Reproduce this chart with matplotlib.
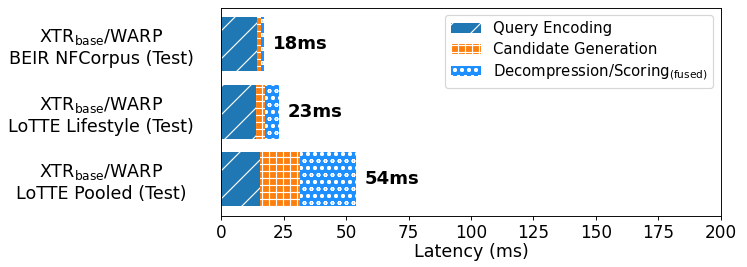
import numpy as np
import matplotlib
matplotlib.use("Agg")
import matplotlib.pyplot as plt

datasets = ["BEIR NFCorpus (Test)", "LoTTE Lifestyle (Test)", "LoTTE Pooled (Test)"]
query_encoding = [14.5, 13.9, 15.7]
candidate_generation = [1.5, 3.6, 15.9]
scoring = [1.1, 5.6, 22.4]
totals_label = [18, 23, 54]

DPI = 84
plt.rcParams['hatch.color'] = 'white'
plt.rcParams['hatch.linewidth'] = 1.0

fig, ax = plt.subplots(figsize=(747 / DPI, 267 / DPI), dpi=DPI)

y = np.arange(len(datasets))
qe = np.array(query_encoding)
cg = np.array(candidate_generation)
sc = np.array(scoring)

ax.barh(y, qe, height=0.8, color='#1f77b4', hatch='/', edgecolor='white', linewidth=0,
        label='Query Encoding')
ax.barh(y, cg, left=qe, height=0.8, color='#ff7f0e', hatch='++', edgecolor='white', linewidth=0,
        label='Candidate Generation')
ax.barh(y, sc, left=qe + cg, height=0.8, color='#1e8fff', hatch='oo', edgecolor='white', linewidth=0,
        label=r'Decompression/Scoring$_{\mathrm{(fused)}}$')

for i, t in enumerate(totals_label):
    ax.text(qe[i] + cg[i] + sc[i] + 3.5, y[i], f'{t}ms', va='center', ha='left',
            fontsize=15.5, fontweight='bold')

ax.set_yticks(y)
ax.set_yticklabels([r'XTR$_{\mathrm{base}}$/WARP' + '\n' + d for d in datasets],
                   multialignment='center', ha='center', fontsize=15)
ax.tick_params(axis='y', length=0, pad=120 * 72 / DPI)
ax.invert_yaxis()
ax.set_xlim(0, 200)
ax.set_xticks(np.arange(0, 201, 25))
ax.tick_params(axis='x', labelsize=14.5)
ax.set_xlabel('Latency (ms)', fontsize=15, labelpad=1)
ax.legend(loc='upper right', fontsize=12.8, handlelength=2.0, labelspacing=0.38)

plt.subplots_adjust(left=0.296, right=0.965, top=0.970, bottom=0.192)
plt.savefig('out.png', dpi=DPI)
